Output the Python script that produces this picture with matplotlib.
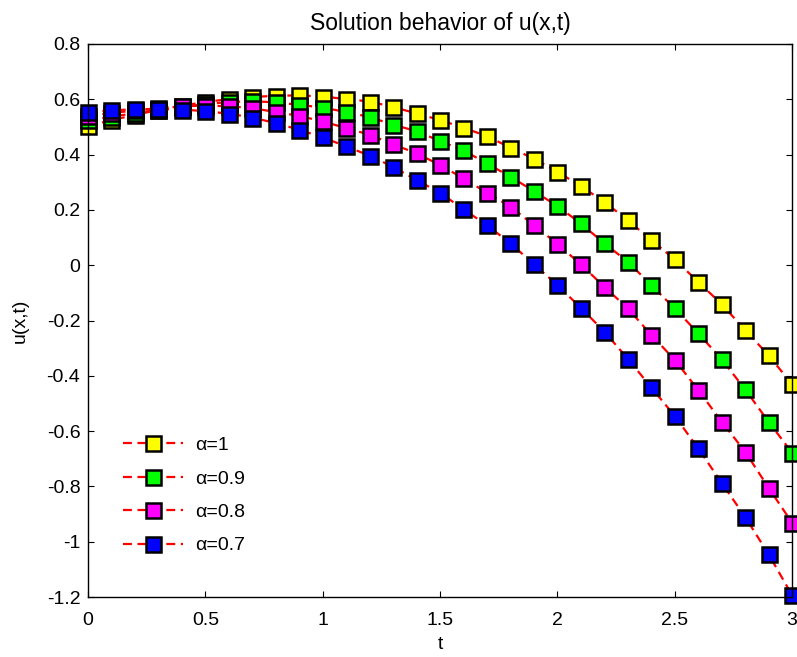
import numpy as np
import matplotlib
matplotlib.use("Agg")
import matplotlib.pyplot as plt

plt.rcParams['font.family'] = ['Liberation Sans', 'DejaVu Sans']

t = [0.0, 0.1, 0.2, 0.3, 0.4, 0.5, 0.6, 0.7, 0.8, 0.9, 1.0,
     1.1, 1.2, 1.3, 1.4, 1.5, 1.6, 1.7, 1.8, 1.9, 2.0,
     2.1, 2.2, 2.3, 2.4, 2.5, 2.6, 2.7, 2.8, 2.9, 3.0]

u_a10 = [0.503, 0.525, 0.543, 0.562, 0.577, 0.590, 0.601, 0.608, 0.613, 0.614, 0.610,
         0.601, 0.592, 0.572, 0.549, 0.525, 0.497, 0.467, 0.425, 0.385, 0.338,
         0.286, 0.229, 0.163, 0.091, 0.021, -0.060, -0.141, -0.234, -0.326, -0.430]

u_a09 = [0.525, 0.537, 0.550, 0.562, 0.573, 0.583, 0.590, 0.593, 0.589, 0.580, 0.570,
         0.554, 0.536, 0.508, 0.485, 0.449, 0.415, 0.368, 0.320, 0.268, 0.214,
         0.151, 0.079, 0.013, -0.072, -0.156, -0.246, -0.340, -0.449, -0.566, -0.678]

u_a08 = [0.540, 0.550, 0.560, 0.568, 0.575, 0.577, 0.575, 0.568, 0.554, 0.540, 0.520,
         0.496, 0.472, 0.437, 0.405, 0.362, 0.314, 0.262, 0.212, 0.145, 0.077,
         0.003, -0.078, -0.156, -0.252, -0.342, -0.451, -0.566, -0.674, -0.805, -0.931]

u_a07 = [0.553, 0.560, 0.564, 0.565, 0.563, 0.557, 0.548, 0.534, 0.514, 0.490, 0.462,
         0.430, 0.396, 0.356, 0.308, 0.262, 0.202, 0.145, 0.079, 0.004, -0.072,
         -0.154, -0.240, -0.338, -0.442, -0.545, -0.662, -0.787, -0.910, -1.045, -1.193]

labels = ['α=1', 'α=0.9', 'α=0.8', 'α=0.7']
face_colors = ['#ffff00', '#00ff00', '#ff00ff', '#0000ff']
series = [u_a10, u_a09, u_a08, u_a07]

fig = plt.figure(figsize=(7.97, 6.57), dpi=100)
ax = fig.add_axes([88/797, 60/657, 704/797, 553/657])

for ys, fc, lab in zip(series, face_colors, labels):
    ax.plot(t, ys, linestyle='--', color='#ff0000', linewidth=1.6,
            marker='s', markersize=10.8, markerfacecolor=fc,
            markeredgecolor='black', markeredgewidth=1.8, label=lab,
            dashes=(4, 2.5), clip_on=False)

ax.set_xlim(0, 3)
ax.set_ylim(-1.2, 0.8)
ax.set_xticks([0, 0.5, 1, 1.5, 2, 2.5, 3])
ax.set_xticklabels(['0', '0.5', '1', '1.5', '2', '2.5', '3'])
ax.set_yticks([-1.2, -1, -0.8, -0.6, -0.4, -0.2, 0, 0.2, 0.4, 0.6, 0.8])
ax.set_yticklabels(['-1.2', '-1', '-0.8', '-0.6', '-0.4', '-0.2', '0', '0.2', '0.4', '0.6', '0.8'])
ax.tick_params(direction='in', length=4, width=0.8, top=True, right=True,
               labelsize=14)
ax.tick_params(axis='y', pad=5.5)
ax.tick_params(axis='x', pad=10.5)
for sp in ax.spines.values():
    sp.set_linewidth(1.0)

ax.set_title('Solution behavior of u(x,t)', fontsize=16.5, pad=10)
ax.set_xlabel('t', fontsize=14, labelpad=5)
ax.set_ylabel('u(x,t)', fontsize=14, labelpad=13)

leg = ax.legend(loc='lower left', bbox_to_anchor=(0.0386, 0.063), frameon=False,
                fontsize=14, handlelength=3.1, handletextpad=0.62,
                labelspacing=0.81, borderaxespad=0.0)

fig.savefig('out.png', dpi=100)
